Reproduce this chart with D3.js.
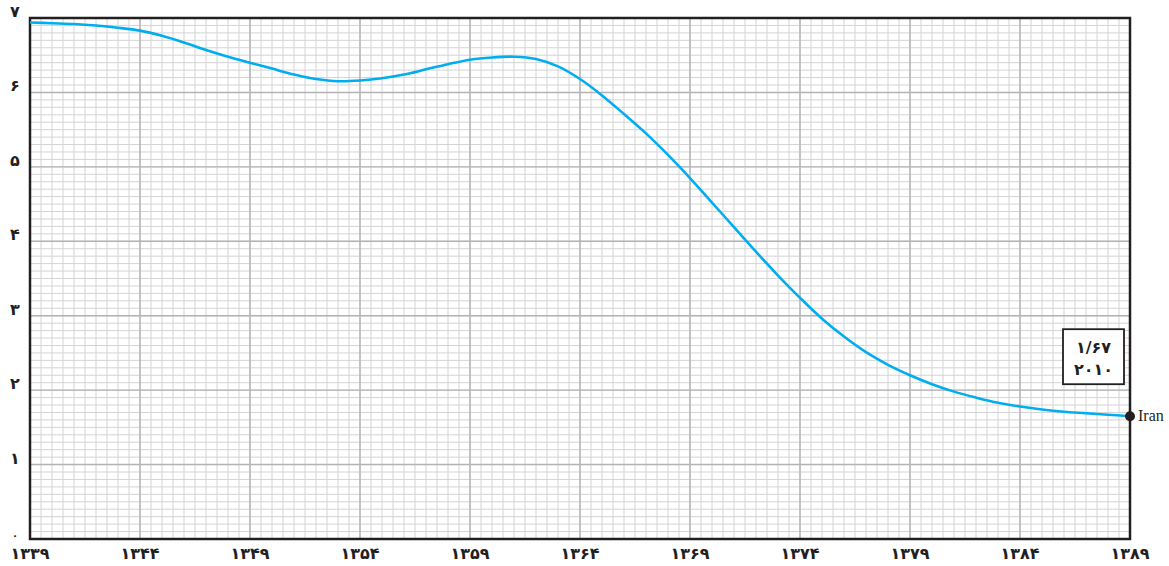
<!DOCTYPE html>
<html>
<head>
<meta charset="utf-8">
<script src="https://cdn.jsdelivr.net/npm/d3@7"></script>
<style>
  body { margin: 0; background: #fff; }
  svg { display: block; }
</style>
</head>
<body>
<div id="container"></div>
<script>
// fertility rate, Iran, solar years 1339..1389
const years = d3.range(1339, 1390);
const rates = [
  6.94, 6.93, 6.92, 6.90, 6.87, 6.83, 6.76, 6.67, 6.57, 6.48,
  6.40, 6.32, 6.24, 6.18, 6.15, 6.16, 6.19, 6.24, 6.31, 6.38,
  6.44, 6.47, 6.48, 6.45, 6.35, 6.18, 5.96, 5.71, 5.45, 5.16,
  4.85, 4.52, 4.19, 3.86, 3.54, 3.24, 2.96, 2.72, 2.51, 2.34,
  2.20, 2.08, 1.98, 1.90, 1.83, 1.78, 1.74, 1.71, 1.69, 1.67,
  1.65
];
const xTicks = [1339, 1344, 1349, 1354, 1359, 1364, 1369, 1374, 1379, 1384, 1389];
const yTicks = [0, 1, 2, 3, 4, 5, 6, 7];
const countryName = "Iran";
const boxLines = ["۱/۶۷", "۲۰۱۰"];

const width = 1169, height = 566;
const margin = {top: 18, right: 39, bottom: 27, left: 30};

const fa = n => String(n).replace(/\d/g, d => "۰۱۲۳۴۵۶۷۸۹"[d]);

const x = d3.scaleLinear().domain([1339, 1389]).range([margin.left, width - margin.right]);
const y = d3.scaleLinear().domain([0, 7]).range([height - margin.bottom, margin.top]);

const svg = d3.select("#container").append("svg")
  .attr("width", width)
  .attr("height", height);

// minor grid
svg.append("g")
  .attr("stroke", "#d4d4d6")
  .attr("stroke-width", 1)
  .call(g => g.selectAll("line.v")
    .data(d3.range(1339, 1389.01, 0.5))
    .join("line")
    .attr("x1", d => x(d)).attr("x2", d => x(d))
    .attr("y1", y(0)).attr("y2", y(7)))
  .call(g => g.selectAll("line.h")
    .data(d3.range(0, 70).map(i => i / 10))
    .join("line")
    .attr("x1", x(1339)).attr("x2", x(1389))
    .attr("y1", d => y(d)).attr("y2", d => y(d)));

// major grid
svg.append("g")
  .attr("stroke", "#b3b3b7")
  .attr("stroke-width", 1.4)
  .call(g => g.selectAll("line.v")
    .data(xTicks)
    .join("line")
    .attr("x1", d => x(d)).attr("x2", d => x(d))
    .attr("y1", y(0)).attr("y2", y(7)))
  .call(g => g.selectAll("line.h")
    .data(yTicks)
    .join("line")
    .attr("x1", x(1339)).attr("x2", x(1389))
    .attr("y1", d => y(d)).attr("y2", d => y(d)));

// frame
svg.append("rect")
  .attr("x", x(1339)).attr("y", y(7))
  .attr("width", x(1389) - x(1339))
  .attr("height", y(0) - y(7))
  .attr("fill", "none")
  .attr("stroke", "#231f20")
  .attr("stroke-width", 2.5);

// axes labels
svg.append("g")
  .attr("font-family", "DejaVu Sans")
  .attr("font-weight", "bold")
  .attr("fill", "#231f20")
  .selectAll("text")
  .data(yTicks)
  .join("text")
  .attr("x", 15)
  .attr("y", d => y(d) + (d === 0 ? 0 : -1))
  .attr("text-anchor", "middle")
  .attr("font-size", d => d === 0 ? 10 : 16)
  .text(d => fa(d));

svg.append("g")
  .attr("font-family", "DejaVu Sans")
  .attr("font-weight", "bold")
  .attr("font-size", 16)
  .attr("fill", "#231f20")
  .selectAll("text")
  .data(xTicks)
  .join("text")
  .attr("x", d => x(d))
  .attr("y", height - 7)
  .attr("text-anchor", "middle")
  .text(d => fa(d));

// line
const data = years.map((yr, i) => ({year: yr, value: rates[i]}));
const line = d3.line()
  .x(d => x(d.year))
  .y(d => y(d.value))
  .curve(d3.curveCatmullRom.alpha(0.5));

svg.append("path")
  .datum(data)
  .attr("fill", "none")
  .attr("stroke", "#00aeef")
  .attr("stroke-width", 2.6)
  .attr("d", line);

const last = data[data.length - 1];
const lx = x(last.year), ly = y(last.value);

svg.append("circle")
  .attr("cx", lx).attr("cy", ly)
  .attr("r", 5)
  .attr("fill", "#231f20");

svg.append("text")
  .attr("x", lx + 8).attr("y", ly + 5)
  .attr("font-family", "Liberation Serif")
  .attr("font-size", 16)
  .attr("fill", "#231f20")
  .text(countryName);

// value box
const box = svg.append("g").attr("transform", `translate(${lx - 67},${ly - 87})`);
box.append("rect")
  .attr("width", 61).attr("height", 55)
  .attr("fill", "#fff")
  .attr("stroke", "#231f20")
  .attr("stroke-width", 1.8);
box.selectAll("text")
  .data(boxLines)
  .join("text")
  .attr("x", 30.5)
  .attr("y", (d, i) => 24 + i * 22)
  .attr("text-anchor", "middle")
  .attr("font-family", "DejaVu Sans")
  .attr("font-weight", "bold")
  .attr("font-size", 16)
  .attr("fill", "#231f20")
  .text(d => d);
</script>
</body>
</html>
